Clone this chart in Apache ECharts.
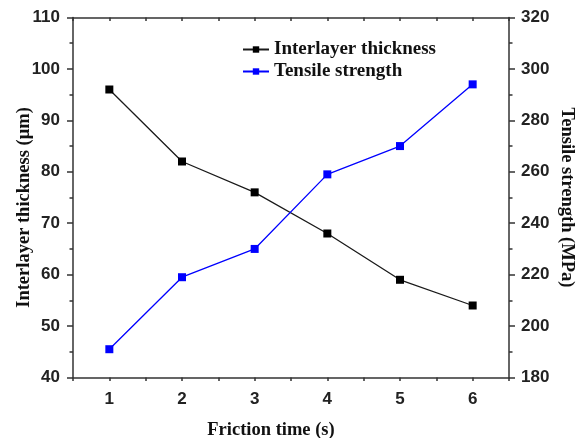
<!DOCTYPE html>
<html>
<head>
<meta charset="utf-8">
<script src="https://cdn.jsdelivr.net/npm/echarts@6/dist/echarts.min.js"></script>
<style>
  html, body { margin: 0; padding: 0; background: #fff; }
  #chart { width: 587px; height: 438px; }
</style>
</head>
<body>
<div id="chart"></div>
<script>
// friction time categories (s)
const frictionTime = ['1', '2', '3', '4', '5', '6'];
// interlayer thickness (µm), left axis
const thickness = [96, 82, 76, 68, 59, 54];
// tensile strength (MPa), right axis
const strength = [191, 219, 230, 259, 270, 294];

const tickFont = { color: '#222', fontFamily: 'Liberation Sans, Arial', fontWeight: 'bold', fontSize: 17 };
const titleFont = { color: '#111', fontFamily: 'Liberation Serif, Times New Roman', fontWeight: 'bold', fontSize: 18.5 };
const lineStyle = { color: '#333', width: 1.5 };

const chart = echarts.init(document.getElementById('chart'));

chart.setOption({
  backgroundColor: '#fff',
  animation: false,
  grid: { left: 73, right: 78, top: 17.5, bottom: 60.5, outerBoundsMode: 'none', containLabel: false },
  legend: {
    orient: 'vertical',
    left: 237,
    top: 35,
    itemGap: 3,
    itemWidth: 26,
    itemHeight: 8,
    textStyle: { color: '#111', fontFamily: 'Liberation Serif, Times New Roman', fontWeight: 'bold', fontSize: 19 },
    data: ['Interlayer thickness', 'Tensile strength']
  },
  xAxis: [
    {
      type: 'category',
      data: frictionTime,
      position: 'bottom',
      boundaryGap: true,
      name: 'Friction time (s)',
      nameLocation: 'middle',
      nameGap: 43,
      nameMoveOverlap: false,
      nameTextStyle: Object.assign({}, titleFont, { padding: [0, 40, 0, 0] }),
      axisLine: { lineStyle: lineStyle },
      axisTick: { alignWithLabel: true, length: 6, lineStyle: lineStyle },
      axisLabel: Object.assign({ margin: 13 }, tickFont),
      splitLine: { show: false }
    },
    {
      type: 'category',
      data: frictionTime,
      position: 'top',
      boundaryGap: true,
      axisLine: { lineStyle: lineStyle },
      axisTick: { alignWithLabel: true, inside: true, length: 6, lineStyle: lineStyle },
      axisLabel: { show: false },
      splitLine: { show: false }
    },
    // minor ticks on bottom and top
    {
      type: 'value',
      min: 0.5, max: 6.5, interval: 0.5,
      position: 'bottom',
      axisLine: { show: false },
      axisTick: { length: 3.5, lineStyle: lineStyle },
      axisLabel: { show: false },
      splitLine: { show: false }
    },
    {
      type: 'value',
      min: 0.5, max: 6.5, interval: 0.5,
      position: 'top',
      axisLine: { show: false },
      axisTick: { inside: true, length: 3.5, lineStyle: lineStyle },
      axisLabel: { show: false },
      splitLine: { show: false }
    }
  ],
  yAxis: [
    {
      type: 'value',
      min: 40, max: 110, interval: 10,
      position: 'left',
      name: 'Interlayer thickness (\u03bcm)',
      nameLocation: 'middle',
      nameRotate: 90,
      nameGap: 39,
      nameMoveOverlap: false,
      nameTextStyle: Object.assign({}, titleFont, { padding: [0, 20, 0, 0] }),
      axisLine: { show: true, lineStyle: lineStyle },
      axisTick: { show: true, length: 6, lineStyle: lineStyle },
      minorTick: { show: true, splitNumber: 2, length: 3.5, lineStyle: lineStyle },
      axisLabel: Object.assign({ margin: 13 }, tickFont),
      splitLine: { show: false }
    },
    {
      type: 'value',
      min: 180, max: 320, interval: 20,
      position: 'right',
      name: 'Tensile strength (MPa)',
      nameLocation: 'middle',
      nameRotate: -90,
      nameGap: 48,
      nameMoveOverlap: false,
      nameTextStyle: titleFont,
      axisLine: { show: true, lineStyle: lineStyle },
      axisTick: { show: true, length: 6, lineStyle: lineStyle },
      minorTick: { show: true, splitNumber: 2, length: 3.5, lineStyle: lineStyle },
      axisLabel: Object.assign({ margin: 12 }, tickFont),
      splitLine: { show: false }
    }
  ],
  series: [
    {
      name: 'Interlayer thickness',
      type: 'line',
      xAxisIndex: 0,
      yAxisIndex: 0,
      data: thickness,
      symbol: 'rect',
      symbolSize: 8,
      color: '#000',
      lineStyle: { color: '#1a1a1a', width: 1.3 },
      itemStyle: { color: '#000' }
    },
    {
      name: 'Tensile strength',
      type: 'line',
      xAxisIndex: 0,
      yAxisIndex: 1,
      data: strength,
      symbol: 'rect',
      symbolSize: 8,
      color: '#0000ff',
      lineStyle: { color: '#0000ff', width: 1.3 },
      itemStyle: { color: '#0000ff' }
    }
  ]
});
</script>
</body>
</html>
